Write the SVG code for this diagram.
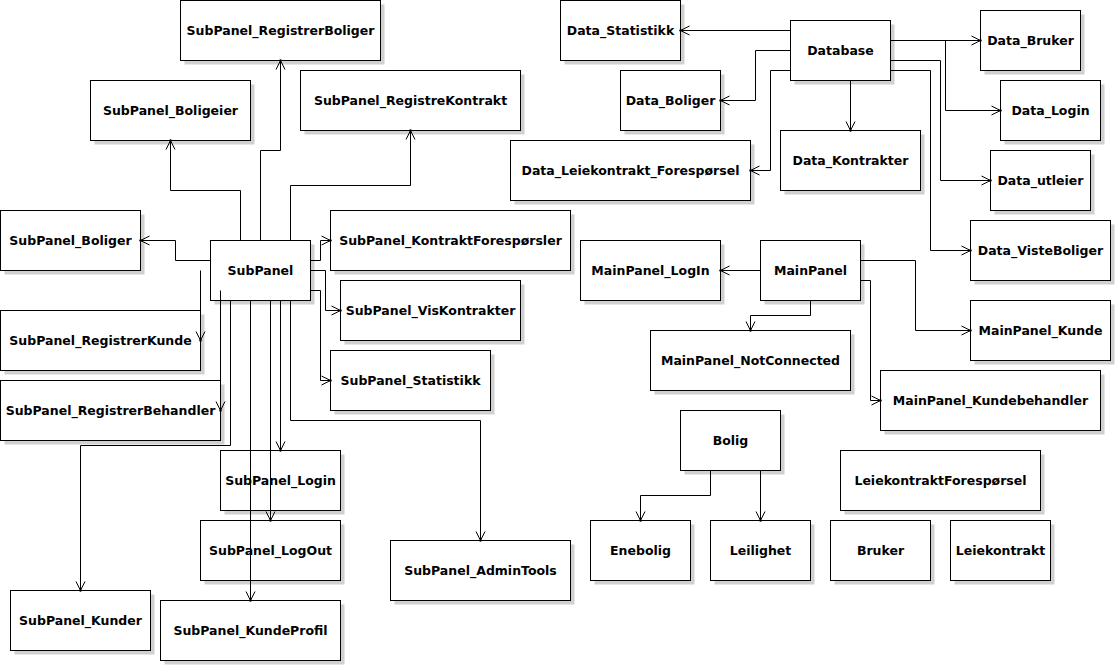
<svg xmlns="http://www.w3.org/2000/svg" width="1115" height="665" viewBox="0 0 1115 665">
  <style>
    .box { fill: #ffffff; stroke: #000000; stroke-width: 1; }
    .shadow { fill: #d0d0d0; stroke: none; }
    .label { font-family: "DejaVu Sans", "Liberation Sans", sans-serif; font-weight: bold; font-size: 12.5px; fill: #000000; text-anchor: middle; }
    .edge { fill: none; stroke: #000000; stroke-width: 1; marker-end: url(#open); }
  </style>
  <defs>
    <marker id="open" markerUnits="userSpaceOnUse" markerWidth="20" markerHeight="20" refX="0" refY="0" viewBox="-10 -10 20 20" orient="auto" overflow="visible">
      <path d="M -9 -4.5 L 0 0 L -9 4.5" fill="none" stroke="#000000" stroke-width="1"/>
      <circle cx="0" cy="0" r="1.2" fill="#000000"/>
    </marker>
  </defs>
  <rect width="1115" height="665" fill="#ffffff"/>
  <g transform="translate(0.5,0.5)">
    <g id="nodes">
      <g id="SubPanel_RegistrerBoliger"><rect class="shadow" x="184" y="4" width="200" height="60"/><rect class="box" x="180" y="0" width="200" height="60"/><text class="label" x="280" y="34.5">SubPanel_RegistrerBoliger</text></g>
      <g id="SubPanel_Boligeier"><rect class="shadow" x="94" y="84" width="160" height="60"/><rect class="box" x="90" y="80" width="160" height="60"/><text class="label" x="170" y="114.5">SubPanel_Boligeier</text></g>
      <g id="SubPanel_RegistreKontrakt"><rect class="shadow" x="304" y="74" width="220" height="60"/><rect class="box" x="300" y="70" width="220" height="60"/><text class="label" x="410" y="104.5">SubPanel_RegistreKontrakt</text></g>
      <g id="SubPanel_Boliger"><rect class="shadow" x="4" y="214" width="140" height="60"/><rect class="box" x="0" y="210" width="140" height="60"/><text class="label" x="70" y="244.5">SubPanel_Boliger</text></g>
      <g id="SubPanel"><rect class="shadow" x="214" y="244" width="100" height="60"/><rect class="box" x="210" y="240" width="100" height="60"/><text class="label" x="260" y="274.5">SubPanel</text></g>
      <g id="SubPanel_KontraktForesporsler"><rect class="shadow" x="334" y="214" width="240" height="60"/><rect class="box" x="330" y="210" width="240" height="60"/><text class="label" x="450" y="244.5">SubPanel_KontraktForespørsler</text></g>
      <g id="SubPanel_VisKontrakter"><rect class="shadow" x="344" y="284" width="180" height="60"/><rect class="box" x="340" y="280" width="180" height="60"/><text class="label" x="430" y="314.5">SubPanel_VisKontrakter</text></g>
      <g id="SubPanel_Statistikk"><rect class="shadow" x="334" y="354" width="160" height="60"/><rect class="box" x="330" y="350" width="160" height="60"/><text class="label" x="410" y="384.5">SubPanel_Statistikk</text></g>
      <g id="SubPanel_RegistrerKunde"><rect class="shadow" x="4" y="314" width="200" height="60"/><rect class="box" x="0" y="310" width="200" height="60"/><text class="label" x="100" y="344.5">SubPanel_RegistrerKunde</text></g>
      <g id="SubPanel_RegistrerBehandler"><rect class="shadow" x="4" y="384" width="220" height="60"/><rect class="box" x="0" y="380" width="220" height="60"/><text class="label" x="110" y="414.5">SubPanel_RegistrerBehandler</text></g>
      <g id="SubPanel_Login"><rect class="shadow" x="224" y="454" width="120" height="60"/><rect class="box" x="220" y="450" width="120" height="60"/><text class="label" x="280" y="484.5">SubPanel_Login</text></g>
      <g id="SubPanel_LogOut"><rect class="shadow" x="204" y="524" width="140" height="60"/><rect class="box" x="200" y="520" width="140" height="60"/><text class="label" x="270" y="554.5">SubPanel_LogOut</text></g>
      <g id="SubPanel_KundeProfil"><rect class="shadow" x="164" y="604" width="180" height="60"/><rect class="box" x="160" y="600" width="180" height="60"/><text class="label" x="250" y="634.5">SubPanel_KundeProfil</text></g>
      <g id="SubPanel_Kunder"><rect class="shadow" x="14" y="594" width="140" height="60"/><rect class="box" x="10" y="590" width="140" height="60"/><text class="label" x="80" y="624.5">SubPanel_Kunder</text></g>
      <g id="SubPanel_AdminTools"><rect class="shadow" x="394" y="544" width="180" height="60"/><rect class="box" x="390" y="540" width="180" height="60"/><text class="label" x="480" y="574.5">SubPanel_AdminTools</text></g>

      <g id="Data_Statistikk"><rect class="shadow" x="564" y="4" width="120" height="60"/><rect class="box" x="560" y="0" width="120" height="60"/><text class="label" x="620" y="34.5">Data_Statistikk</text></g>
      <g id="Database"><rect class="shadow" x="794" y="24" width="100" height="60"/><rect class="box" x="790" y="20" width="100" height="60"/><text class="label" x="840" y="54.5">Database</text></g>
      <g id="Data_Bruker"><rect class="shadow" x="984" y="14" width="100" height="60"/><rect class="box" x="980" y="10" width="100" height="60"/><text class="label" x="1030" y="44.5">Data_Bruker</text></g>
      <g id="Data_Login"><rect class="shadow" x="1004" y="84" width="100" height="60"/><rect class="box" x="1000" y="80" width="100" height="60"/><text class="label" x="1050" y="114.5">Data_Login</text></g>
      <g id="Data_utleier"><rect class="shadow" x="994" y="154" width="100" height="60"/><rect class="box" x="990" y="150" width="100" height="60"/><text class="label" x="1040" y="184.5">Data_utleier</text></g>
      <g id="Data_VisteBoliger"><rect class="shadow" x="974" y="224" width="140" height="60"/><rect class="box" x="970" y="220" width="140" height="60"/><text class="label" x="1040" y="254.5">Data_VisteBoliger</text></g>
      <g id="Data_Boliger"><rect class="shadow" x="624" y="74" width="100" height="60"/><rect class="box" x="620" y="70" width="100" height="60"/><text class="label" x="670" y="104.5">Data_Boliger</text></g>
      <g id="Data_Leiekontrakt_Foresporsel"><rect class="shadow" x="514" y="144" width="240" height="60"/><rect class="box" x="510" y="140" width="240" height="60"/><text class="label" x="630" y="174.5">Data_Leiekontrakt_Forespørsel</text></g>
      <g id="Data_Kontrakter"><rect class="shadow" x="784" y="134" width="140" height="60"/><rect class="box" x="780" y="130" width="140" height="60"/><text class="label" x="850" y="164.5">Data_Kontrakter</text></g>

      <g id="MainPanel"><rect class="shadow" x="764" y="244" width="100" height="60"/><rect class="box" x="760" y="240" width="100" height="60"/><text class="label" x="810" y="274.5">MainPanel</text></g>
      <g id="MainPanel_LogIn"><rect class="shadow" x="584" y="244" width="140" height="60"/><rect class="box" x="580" y="240" width="140" height="60"/><text class="label" x="650" y="274.5">MainPanel_LogIn</text></g>
      <g id="MainPanel_NotConnected"><rect class="shadow" x="654" y="334" width="200" height="60"/><rect class="box" x="650" y="330" width="200" height="60"/><text class="label" x="750" y="364.5">MainPanel_NotConnected</text></g>
      <g id="MainPanel_Kunde"><rect class="shadow" x="974" y="304" width="140" height="60"/><rect class="box" x="970" y="300" width="140" height="60"/><text class="label" x="1040" y="334.5">MainPanel_Kunde</text></g>
      <g id="MainPanel_Kundebehandler"><rect class="shadow" x="884" y="374" width="220" height="60"/><rect class="box" x="880" y="370" width="220" height="60"/><text class="label" x="990" y="404.5">MainPanel_Kundebehandler</text></g>

      <g id="Bolig"><rect class="shadow" x="684" y="414" width="100" height="60"/><rect class="box" x="680" y="410" width="100" height="60"/><text class="label" x="730" y="444.5">Bolig</text></g>
      <g id="Enebolig"><rect class="shadow" x="594" y="524" width="100" height="60"/><rect class="box" x="590" y="520" width="100" height="60"/><text class="label" x="640" y="554.5">Enebolig</text></g>
      <g id="Leilighet"><rect class="shadow" x="714" y="524" width="100" height="60"/><rect class="box" x="710" y="520" width="100" height="60"/><text class="label" x="760" y="554.5">Leilighet</text></g>
      <g id="LeiekontraktForesporsel"><rect class="shadow" x="844" y="454" width="200" height="60"/><rect class="box" x="840" y="450" width="200" height="60"/><text class="label" x="940" y="484.5">LeiekontraktForespørsel</text></g>
      <g id="Bruker"><rect class="shadow" x="834" y="524" width="100" height="60"/><rect class="box" x="830" y="520" width="100" height="60"/><text class="label" x="880" y="554.5">Bruker</text></g>
      <g id="Leiekontrakt"><rect class="shadow" x="954" y="524" width="100" height="60"/><rect class="box" x="950" y="520" width="100" height="60"/><text class="label" x="1000" y="554.5">Leiekontrakt</text></g>
    </g>

    <g id="connectors">
      <!-- SubPanel -->
      <polyline class="edge" points="240,240 240,190 170,190 170,140"/>
      <polyline class="edge" points="260,240 260,150 280,150 280,60"/>
      <polyline class="edge" points="290,240 290,185 410,185 410,130"/>
      <polyline class="edge" points="210,260 175,260 175,240 140,240"/>
      <polyline class="edge" points="310,260 320,260 320,240 330,240"/>
      <polyline class="edge" points="310,270 325,270 325,310 340,310"/>
      <polyline class="edge" points="310,290 320,290 320,380 330,380"/>
      <polyline class="edge" points="200,270 200,340"/>
      <polyline class="edge" points="220,290 220,410"/>
      <polyline class="edge" points="230,300 230,445 80,445 80,590"/>
      <polyline class="edge" points="250,300 250,600"/>
      <polyline class="edge" points="270,300 270,520"/>
      <polyline class="edge" points="280,300 280,450"/>
      <polyline class="edge" points="290,300 290,420 480,420 480,540"/>
      <!-- Database -->
      <polyline class="edge" points="790,30 680,30"/>
      <polyline class="edge" points="790,50 755,50 755,100 720,100"/>
      <polyline class="edge" points="790,70 770,70 770,170 750,170"/>
      <polyline class="edge" points="850,80 850,130"/>
      <polyline class="edge" points="890,40 980,40"/>
      <polyline class="edge" points="890,40 945,40 945,110 1000,110"/>
      <polyline class="edge" points="890,60 940,60 940,180 990,180"/>
      <polyline class="edge" points="890,70 930,70 930,250 970,250"/>
      <!-- MainPanel -->
      <polyline class="edge" points="760,270 720,270"/>
      <polyline class="edge" points="810,300 810,315 750,315 750,330"/>
      <polyline class="edge" points="860,260 915,260 915,330 970,330"/>
      <polyline class="edge" points="860,280 870,280 870,400 880,400"/>
      <!-- Bolig -->
      <polyline class="edge" points="710,470 710,495 640,495 640,520"/>
      <polyline class="edge" points="760,470 760,520"/>
    </g>
  </g>
</svg>
